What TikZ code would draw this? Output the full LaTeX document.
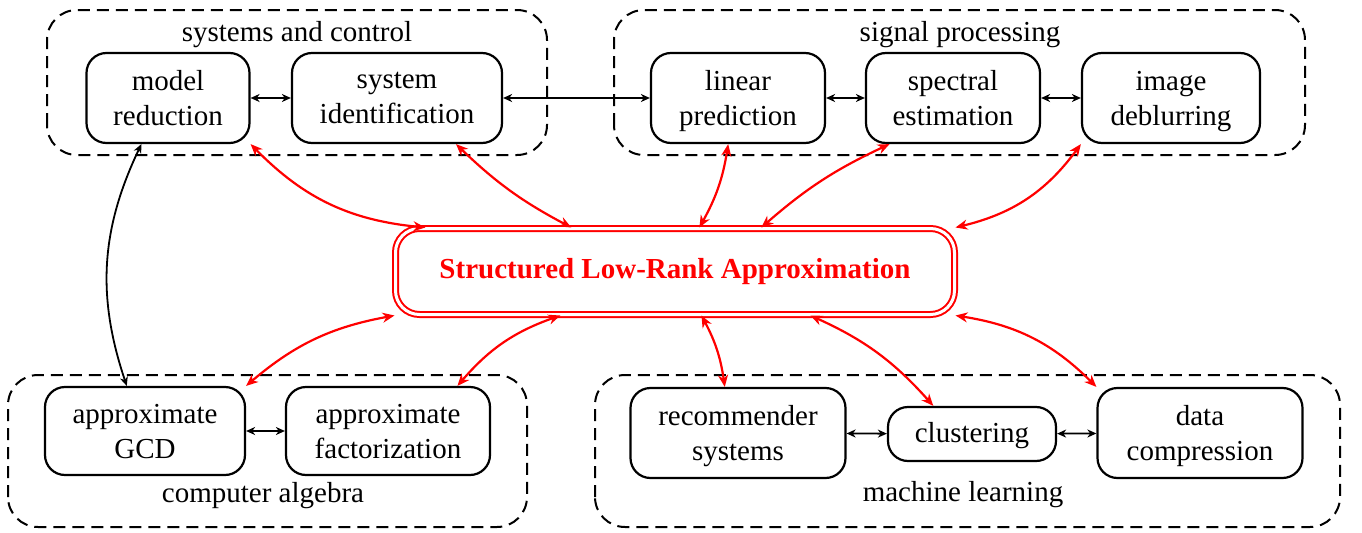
\documentclass[tikz,border=0pt]{standalone}
\usepackage{fontspec}
\setmainfont{Liberation Serif}
\usetikzlibrary{arrows.meta}

\tikzset{
    task/.style={draw, line width=1.1pt, rounded corners=10pt, align=center, inner sep=0pt, font=\fontsize{14.5}{17.5}\selectfont, execute at begin node=\strut, text depth=0pt},
    group/.style={line width=1pt, dash pattern=on 6pt off 3.5pt, rounded corners=15pt},
    title/.style={font=\fontsize{14.5}{17.5}\selectfont},
    core/.style={draw=red, double=white, double distance=1.5pt, line width=1pt, rounded corners=12pt, minimum width=279.5pt, minimum height=43pt, text=red, font=\fontsize{14.5}{17.5}\selectfont\bfseries},
    link/.style={<->, line width=0.9pt, >={Stealth[length=4.5pt, width=4pt, inset=1.4pt]}},
    rel/.style={<->, red, line width=1.1pt, >={Stealth[length=6pt, width=5pt, inset=1.9pt]}}
}

\begin{document}
\begin{tikzpicture}[x=0.5pt, y=0.5pt]
        \useasboundingbox (0, 0) rectangle (1362, 532);
        \draw[group] (47, 377) rectangle (547, 522);
        \draw[group] (614, 377) rectangle (1305, 522);
        \draw[group] (8, 5) rectangle (527, 157);
        \draw[group] (595, 5) rectangle (1340, 157);
        \node[title] (t1) at (297, 497) {systems and control};
        \node[title] (t2) at (960, 497) {signal processing};
        \node[title] (t3) at (263, 36) {computer algebra};
        \node[title] (t4) at (963, 37) {machine learning};
        \node[task, minimum width=81.5pt, minimum height=45pt] (mr) at (168, 434) {model\\reduction};
        \node[task, minimum width=105pt, minimum height=45pt] (si) at (397, 434) {system\\identification};
        \node[task, minimum width=87pt, minimum height=45pt] (lp) at (738, 434) {linear\\prediction};
        \node[task, minimum width=87pt, minimum height=45pt] (se) at (953, 434) {spectral\\estimation};
        \node[task, minimum width=89pt, minimum height=45pt] (id) at (1171, 434) {image\\deblurring};
        \node[task, minimum width=100pt, minimum height=44pt] (gcd) at (145, 101) {approximate\\GCD};
        \node[task, minimum width=102pt, minimum height=44pt] (af) at (388, 101) {approximate\\factorization};
        \node[task, minimum width=107.5pt, minimum height=45pt] (rs) at (738, 99) {recommender\\systems};
        \node[task, minimum width=84pt, minimum height=27pt, text depth=4pt] (cl) at (972, 98) {clustering};
        \node[task, minimum width=102.5pt, minimum height=45pt] (dc) at (1200, 99) {data\\compression};
        \node[core] (slra) at (675, 260.5) {Structured Low-Rank Approximation};
        \draw[link] (mr) -- (si);
        \draw[link] (si) -- (lp);
        \draw[link] (lp) -- (se);
        \draw[link] (se) -- (id);
        \draw[link] (gcd) -- (af);
        \draw[link] (rs) -- (cl);
        \draw[link] (cl) -- (dc);
        \draw[link] (mr.-120) to[bend right=22] (gcd.112);
        \draw[rel] (mr.south east) to[bend right=20] (slra.170);
        \draw[rel] (si.-38) to[bend right=8] (slra.157);
        \draw[rel] (lp.-102) to[bend left=10] (slra.61);
        \draw[rel] (se.-144) to[bend right=8] (slra.27);
        \draw[rel] (id.south west) to[bend left=20] (slra.north east);
        \draw[rel] (gcd.north east) to[bend left=15] (slra.south west);
        \draw[rel] (af.33) to[bend left=15] (slra.-159);
        \draw[rel] (rs.106) to[bend right=10] (slra.-59);
        \draw[rel] (cl.144) to[bend right=12] (slra.-18);
        \draw[rel] (dc.north west) to[bend right=18] (slra.south east);
    \end{tikzpicture}
\end{document}
